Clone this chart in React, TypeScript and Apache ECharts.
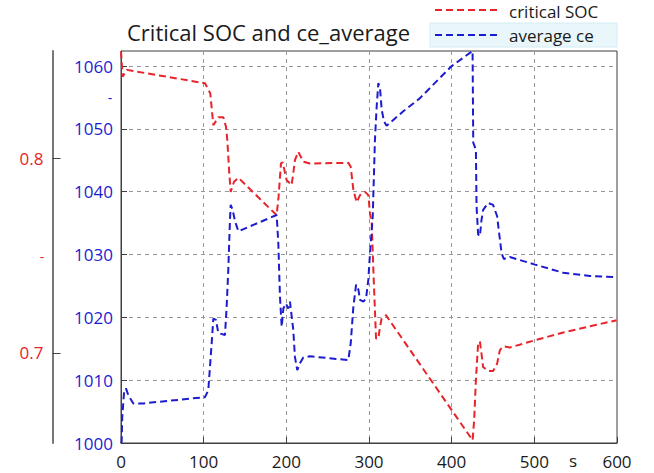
import React, { useEffect, useRef } from "react";
import * as echarts from "echarts";

const xTicks = [0, 100, 200, 300, 400, 500, 600];
const socTicks = [0.7, 0.8];

const socX = [0, 2, 7, 101.6, 108, 111.7, 117.7, 123.8, 127, 128.6, 131, 132.7, 136.7, 142, 188.3, 190.6, 193.5, 195.6, 200.4, 206.4, 208.4, 210.4, 214.4, 220.5, 228.6, 275, 277.9, 281.1, 285.1, 289.1, 295.2, 299.2, 301.2, 303.3, 305.3, 308.5, 311.3, 313.3, 315.3, 320.5, 425.3, 427.2, 429.3, 432, 434.1, 436.1, 438, 444.1, 450.1, 455, 458.3, 462.3, 470.4, 500.8, 535, 567.3, 599.6];
const socY = [0.855, 0.842, 0.8455, 0.8386, 0.8334, 0.8171, 0.8211, 0.8211, 0.8163, 0.8094, 0.7923, 0.7828, 0.788, 0.79, 0.7708, 0.7802, 0.7974, 0.798, 0.7888, 0.7863, 0.7923, 0.7991, 0.8034, 0.7983, 0.7974, 0.7977, 0.7957, 0.7837, 0.7774, 0.7811, 0.7828, 0.7811, 0.7717, 0.7665, 0.7425, 0.7074, 0.7074, 0.7134, 0.7177, 0.7194, 0.6551, 0.6654, 0.686, 0.7048, 0.7059, 0.6997, 0.6928, 0.6907, 0.6907, 0.6945, 0.7014, 0.7034, 0.7028, 0.7065, 0.7105, 0.7137, 0.7168];

const ceX = [0, 0.8, 1.5, 3.6, 6, 8.9, 14.9, 27, 101.6, 105.6, 109.7, 111.7, 114.9, 117.7, 125.8, 127.8, 129.8, 131.8, 132.7, 135.1, 137.9, 142, 188.3, 190.3, 192.3, 194.4, 196.4, 199.5, 202.3, 204.4, 208.4, 210.4, 213.2, 216.5, 220.5, 228.6, 275, 277.9, 281.1, 284.4, 287.2, 289.1, 293.2, 296.4, 299.2, 301.2, 304.5, 307.2, 309.3, 311.3, 313.3, 315.3, 318.1, 321.3, 341.5, 361.7, 381.9, 400, 425.3, 426.1, 429.3, 430.1, 432, 434.1, 436.1, 438.1, 444.1, 450.1, 455, 457.4, 460.4, 463.1, 470.4, 500.8, 535, 567.3, 599.6];
const ceY = [1000, 1000.2, 1004.1, 1007.9, 1008.7, 1007.6, 1006.3, 1006.3, 1007.3, 1008.4, 1015.9, 1019.8, 1019.6, 1017.5, 1017.2, 1021.7, 1027.6, 1035.5, 1037.9, 1037.1, 1035.3, 1033.7, 1036.3, 1031.8, 1023.3, 1018.5, 1021.4, 1022.2, 1021.4, 1022.5, 1018, 1013.7, 1011.6, 1012.7, 1013.6, 1013.8, 1013.2, 1015.9, 1021.7, 1025.2, 1024.4, 1022.8, 1022.5, 1023, 1026, 1030.2, 1036, 1048.3, 1053.6, 1057.3, 1056.5, 1053.1, 1051.2, 1050.5, 1052.8, 1054.9, 1057.6, 1060, 1062.4, 1047.8, 1046.7, 1037.7, 1033.2, 1032.9, 1035.5, 1037.1, 1038.2, 1037.9, 1036.1, 1033.4, 1030.2, 1029.3, 1029.6, 1028.4, 1027.1, 1026.6, 1026.4];

const RED = "#e8232a";
const BLUE = "#1c1ccf";
const FONT = "Open Sans";

export default function App() {
  const ref = useRef<HTMLDivElement>(null);
  useEffect(() => {
    if (!ref.current) return;
    const chart = echarts.init(ref.current, undefined, { renderer: "svg" });
    const socData = socX.map((x, i) => [x, socY[i]]);
    const ceData = ceX.map((x, i) => [x, ceY[i]]);
    chart.setOption({
      animation: false,
      backgroundColor: "#ffffff",
      textStyle: { fontFamily: FONT },
      title: {
        text: "Critical SOC and ce_average",
        left: 122,
        top: 16,
        textStyle: { fontFamily: FONT, fontSize: 22, fontWeight: "normal", color: "#1a1a1a" },
      },
      grid: {
        left: 121,
        right: 37,
        top: 51,
        bottom: 30,
        show: true,
        borderColor: "#404040",
        borderWidth: 1,
      },
      xAxis: {
        type: "value",
        min: 0,
        max: 600,
        interval: 100,
        axisLine: { show: true, lineStyle: { color: "#404040", width: 1 } },
        axisTick: { show: true, inside: true, length: 6, lineStyle: { color: "#404040" } },
        axisLabel: { color: "#1a1a1a", fontSize: 17, margin: 10, fontFamily: FONT, formatter: (v: number) => String(v) },
        splitLine: { show: true, lineStyle: { color: "#999999", type: [4, 4], width: 1 } },
      },
      yAxis: [
        {
          type: "value",
          position: "left",
          min: 1000,
          max: 1062.4,
          interval: 10,
          axisLine: { show: true, lineStyle: { color: "#404040", width: 1 } },
          axisTick: { show: true, inside: true, length: 6, lineStyle: { color: "#404040" } },
          axisLabel: { color: BLUE, fontSize: 17, margin: 8, fontFamily: FONT, formatter: (v: number) => String(Math.round(v)) },
          splitLine: { show: true, lineStyle: { color: "#999999", type: [4, 4], width: 1 } },
        },
        {
          type: "value",
          position: "left",
          offset: 68.5,
          min: 0.6537,
          max: 0.8552,
          axisLine: { show: true, lineStyle: { color: "#777777", width: 2 } },
          axisTick: { show: true, inside: true, length: 8, customValues: socTicks, lineStyle: { color: "#444444", width: 1 } },
          axisLabel: { color: RED, fontSize: 17, margin: 9, fontFamily: FONT, customValues: socTicks, formatter: (v: number) => v.toFixed(1) },
          splitLine: { show: false },
        },
      ],
      graphic: [
        { type: "text", left: 569, top: 452, style: { text: "s", fontSize: 17, fontFamily: FONT, fill: "#1a1a1a" } },
        { type: "text", x: 110, y: 97, style: { text: "-", fontSize: 14, fontFamily: FONT, fill: BLUE, textAlign: "center", textVerticalAlign: "middle" } },
        { type: "text", x: 42, y: 256, style: { text: "-", fontSize: 14, fontFamily: FONT, fill: RED, textAlign: "center", textVerticalAlign: "middle" } },
        { type: "line", shape: { x1: 435, y1: 10, x2: 500, y2: 10 }, style: { stroke: RED, lineWidth: 2, lineDash: [7, 4] } },
        { type: "text", x: 509, y: 11, style: { text: "critical SOC", fontSize: 17, fontFamily: FONT, fill: "#1a1a1a", textVerticalAlign: "middle" } },
        { type: "rect", shape: { x: 430, y: 23, width: 187, height: 24 }, style: { fill: "#e9f7fb", stroke: "#d3ecf4", lineWidth: 1 } },
        { type: "line", shape: { x1: 435, y1: 35, x2: 500, y2: 35 }, style: { stroke: BLUE, lineWidth: 2, lineDash: [7, 4] } },
        { type: "text", x: 509, y: 35, style: { text: "average ce", fontSize: 17, fontFamily: FONT, fill: "#1a1a1a", textVerticalAlign: "middle" } },
      ],
      series: [
        {
          name: "critical SOC",
          type: "line",
          yAxisIndex: 1,
          data: socData,
          showSymbol: false,
          lineStyle: { color: RED, width: 2, type: [7, 4] },
          itemStyle: { color: RED },
        },
        {
          name: "average ce",
          type: "line",
          yAxisIndex: 0,
          data: ceData,
          showSymbol: false,
          lineStyle: { color: BLUE, width: 2, type: [7, 4] },
          itemStyle: { color: BLUE },
        },
      ],
    });
    return () => chart.dispose();
  }, []);
  return <div ref={ref} style={{ width: 654, height: 473, position: "absolute", left: 0, top: 0 }} />;
}
